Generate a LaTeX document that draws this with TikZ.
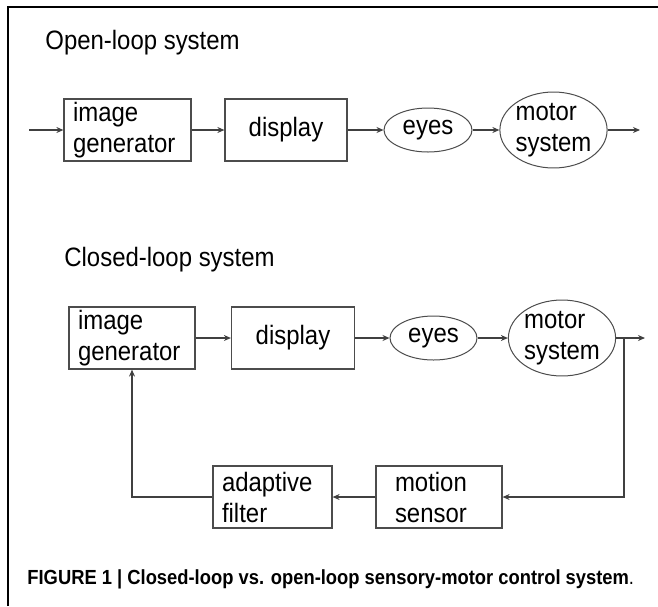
\documentclass[tikz,border=0pt]{standalone}
\usepackage{fontspec}
\setmainfont{Liberation Sans}[FakeStretch=0.9]
\usepackage{tikz}
\usetikzlibrary{shapes.geometric, arrows.meta, positioning}

\begin{document}
\begin{tikzpicture}[
  x=0.5pt, y=-0.5pt,
  lbl/.style={font=\fontsize{13.3pt}{15.5pt}\selectfont},
  block/.style={rectangle, draw=black!70, line width=0.6pt, minimum height=31pt, inner ysep=0pt, lbl},
  textblock/.style={block, align=left, inner xsep=4.5pt},
  organ/.style={ellipse, draw=black!70, line width=0.5pt, inner sep=0pt, lbl},
  arrow/.style={-{Stealth[length=3.5pt, width=3pt]}, draw=black!75, line width=0.55pt}
]
\useasboundingbox (0,0) rectangle (658,606);

% Frame
\draw[line width=1pt] (8,606) -- (8,7) -- (658,7);

% Titles
\node[lbl, anchor=base west, inner sep=0pt] (openlbl) at (45,49) {Open-loop system};
\node[lbl, anchor=base west, inner sep=0pt] (closedlbl) at (64,266) {Closed-loop system};

% Open-loop row
\node[textblock, text width=54.5pt] (gen1) at (127.5,130) {image\\generator};
\node[block, minimum width=61pt] (disp1) at (286,130) {display};
\node[organ, minimum width=44pt, minimum height=22pt] (eyes1) at (428,130) {eyes};
\node[organ, align=left, minimum width=50pt, minimum height=34pt] (motor1) at (553.5,130) {motor\\system};
\coordinate (in1) at (29,130);
\coordinate (out1) at (640,130);

\draw[arrow] (in1) -- (gen1);
\draw[arrow] (gen1) -- (disp1);
\draw[arrow] (disp1) -- (eyes1);
\draw[arrow] (eyes1) -- (motor1);
\draw[arrow] (motor1) -- (out1);

% Closed-loop row
\node[textblock, text width=54pt] (gen2) at (132,338) {image\\generator};
\node[block, minimum width=61.5pt] (disp2) at (293,338) {display};
\node[organ, minimum width=43.5pt, minimum height=22pt] (eyes2) at (433.5,338) {eyes};
\node[organ, align=left, minimum width=50pt, minimum height=34pt] (motor2) at (562,338) {motor\\system};
\coordinate (out2) at (645,338);
\coordinate (tap) at (624,338);

% Feedback path
\node[textblock, text width=44pt, inner xsep=9.5pt] (sensor) at (439,497) {motion\\sensor};
\node[textblock, text width=50.5pt] (filter) at (272.5,497) {adaptive\\filter};

\draw[arrow] (gen2) -- (disp2);
\draw[arrow] (disp2) -- (eyes2);
\draw[arrow] (eyes2) -- (motor2);
\draw[arrow] (motor2) -- (out2);
\draw[arrow] (tap) |- (sensor);
\draw[arrow] (sensor) -- (filter);
\draw[arrow] (filter) -| (gen2);

% Caption
\node[anchor=base west, inner sep=0pt, font=\fontsize{10.2pt}{12pt}\selectfont] (caption) at (27,584)
  {\textbf{FIGURE 1 | Closed-loop vs. open-loop sensory-motor control system}.};

\end{tikzpicture}
\end{document}
